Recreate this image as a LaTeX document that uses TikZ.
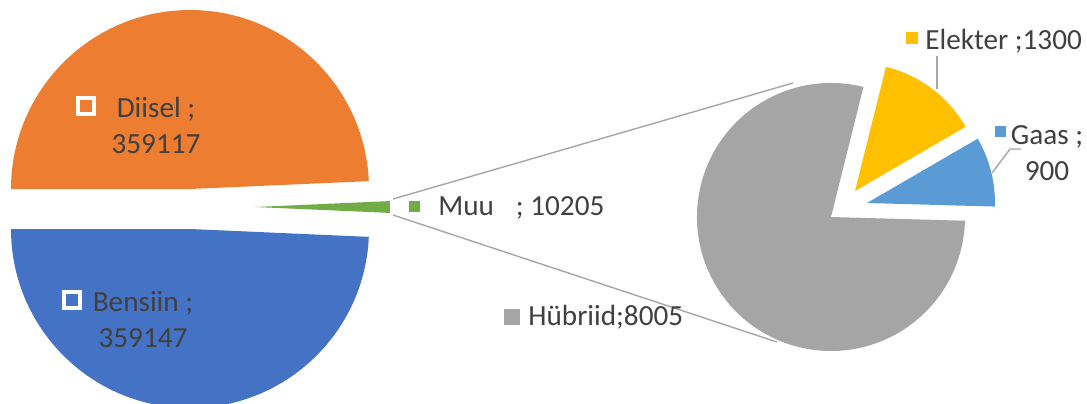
\documentclass[tikz,border=0pt]{standalone}
\usepackage{fontspec}
\setmainfont{Carlito}
\definecolor{diisel}{HTML}{ED7D31}
\definecolor{bensiin}{HTML}{4472C4}
\definecolor{muu}{HTML}{70AD47}
\definecolor{hybrid}{HTML}{A5A5A5}
\definecolor{elekter}{HTML}{FFC000}
\definecolor{gaas}{HTML}{5B9BD5}
\definecolor{txtgray}{HTML}{404040}
\definecolor{linegray}{HTML}{A6A6A6}
\tikzset{
  lbl/.style={text=txtgray, font=\fontsize{14.6}{18}\selectfont, inner sep=0pt},
  keybox/.style={minimum size=#1, inner sep=0pt, outer sep=0pt},
  hollowkey/.style={keybox=7.6pt, draw=white, line width=2pt},
  leader/.style={draw=linegray, line width=0.7pt}
}
\begin{document}
\begin{tikzpicture}[x=0.5pt,y=0.5pt]
  \useasboundingbox (0,0) rectangle (1087,403);

  % primary pie
  \fill[diisel] (190,214) -- ++(2.52:179) arc[start angle=2.52,end angle=180,radius=179] -- cycle;
  \fill[bensiin] (190,174) -- ++(180:179) arc[start angle=180,end angle=357.48,radius=179] -- cycle;
  \fill[muu] (255,196) -- ++(-2.52:135) arc[start angle=-2.52,end angle=2.52,radius=135] -- cycle;

  % secondary pie
  \fill[hybrid] (831,186) -- ++(76:134) arc[start angle=76,end angle=358.4,radius=134] -- cycle;
  \fill[elekter] (855,212) -- ++(30.15:128) arc[start angle=30.15,end angle=76,radius=128] -- cycle;
  \fill[gaas] (867,200) -- ++(-1.6:128) arc[start angle=-1.6,end angle=30.15,radius=128] -- cycle;

  % connector lines
  \coordinate (muuTop) at (393,204);
  \coordinate (muuBot) at (393,188);
  \coordinate (hybTop) at (793,320);
  \coordinate (hybBot) at (777,61);
  \draw[leader] (muuTop) -- (hybTop);
  \draw[leader] (muuBot) -- (hybBot);

  % labels
  \node[hollowkey] (keyDiisel) at (86,297) {};
  \node[lbl, align=center, anchor=base] (labDiisel) at (156,250) {Diisel ;\\359117};
  \node[hollowkey] (keyBensiin) at (72,103) {};
  \node[lbl, align=center, anchor=base] (labBensiin) at (143,56) {Bensiin ;\\359147};

  \node[keybox=5.5pt, fill=muu] (keyMuu) at (414,197) {};
  \node[lbl, anchor=base west] (labMuu) at (438,188) {Muu\hspace{0.75em}; 10205};

  \node[keybox=8pt, fill=hybrid] (keyHyb) at (512,86) {};
  \node[lbl, anchor=base west] (labHyb) at (528,78) {Hübriid;8005};

  \node[keybox=6pt, fill=elekter] (keyElek) at (912,365) {};
  \node[lbl, anchor=base west] (labElek) at (925,354) {Elekter ;1300};

  \node[keybox=5.5pt, fill=gaas] (keyGaas) at (1000,272) {};
  \node[lbl, align=center, anchor=base] (labGaas) at (1047,223) {Gaas ;\\900};

  % leaders
  \coordinate (elekA) at (937,347);
  \coordinate (elekB) at (937,314);
  \draw[leader] (elekA) -- (elekB);
  \coordinate (gaasA) at (1021,254);
  \coordinate (gaasB) at (1010,254);
  \coordinate (gaasC) at (992,230);
  \draw[leader] (gaasA) -- (gaasB) -- (gaasC);
\end{tikzpicture}
\end{document}
